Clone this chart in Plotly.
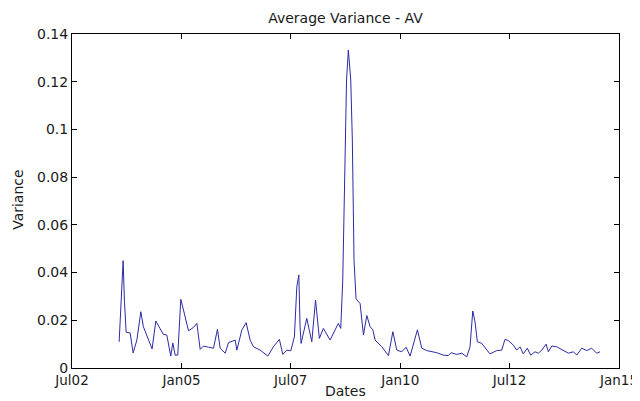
import pandas as pd
import plotly.graph_objects as go

# Time in decimal years
years = [2003.574, 2003.613, 2003.665, 2003.695, 2003.734, 2003.825, 2003.894, 2003.979,
         2004.070, 2004.129, 2004.244, 2004.328, 2004.413, 2004.511, 2004.580, 2004.664,
         2004.755, 2004.801, 2004.854, 2004.915, 2004.984, 2005.043, 2005.158, 2005.272,
         2005.350, 2005.425, 2005.500, 2005.615, 2005.729, 2005.820, 2005.882, 2005.996,
         2006.072, 2006.225, 2006.264, 2006.378, 2006.476, 2006.568, 2006.643, 2006.796,
         2006.972, 2007.100, 2007.237, 2007.315, 2007.406, 2007.498, 2007.580, 2007.635,
         2007.681, 2007.710, 2007.733, 2007.863, 2007.978, 2008.064, 2008.151, 2008.243,
         2008.396, 2008.585, 2008.640, 2008.686, 2008.723, 2008.773, 2008.814, 2008.869,
         2008.905, 2008.928, 2008.944, 2008.990, 2009.081, 2009.157, 2009.234, 2009.310,
         2009.372, 2009.424, 2009.577, 2009.728, 2009.829, 2009.920, 2010.034, 2010.133,
         2010.224, 2010.391, 2010.491, 2010.605, 2010.834, 2010.985, 2011.099, 2011.161,
         2011.291, 2011.405, 2011.520, 2011.595, 2011.657, 2011.709, 2011.762, 2011.862,
         2012.052, 2012.205, 2012.319, 2012.395, 2012.470, 2012.585, 2012.662, 2012.738,
         2012.813, 2012.904, 2012.982, 2013.080, 2013.156, 2013.234, 2013.332, 2013.384,
         2013.462, 2013.576, 2013.691, 2013.841, 2013.956, 2014.033, 2014.148, 2014.262,
         2014.376, 2014.490, 2014.566]

variance = [0.0110, 0.0280, 0.0450, 0.0280, 0.0150, 0.0147, 0.0063, 0.0117,
            0.0236, 0.0173, 0.0117, 0.0080, 0.0197, 0.0168, 0.0142, 0.0138,
            0.0050, 0.0105, 0.0054, 0.0054, 0.0288, 0.0243, 0.0156, 0.0170,
            0.0187, 0.0078, 0.0092, 0.0087, 0.0083, 0.0162, 0.0083, 0.0062,
            0.0106, 0.0117, 0.0075, 0.0159, 0.0190, 0.0117, 0.0089, 0.0075,
            0.0050, 0.0089, 0.0120, 0.0057, 0.0075, 0.0072, 0.0131, 0.0340,
            0.0390, 0.0173, 0.0103, 0.0208, 0.0110, 0.0285, 0.0124, 0.0166,
            0.0117, 0.0187, 0.0166, 0.0369, 0.0710, 0.1207, 0.1333, 0.1207,
            0.0956, 0.0710, 0.0450, 0.0290, 0.0270, 0.0138, 0.0220, 0.0173,
            0.0160, 0.0117, 0.0089, 0.0052, 0.0152, 0.0075, 0.0068, 0.0087,
            0.0050, 0.0160, 0.0083, 0.0073, 0.0064, 0.0054, 0.0052, 0.0064,
            0.0057, 0.0062, 0.0047, 0.0089, 0.0239, 0.0194, 0.0110, 0.0103,
            0.0059, 0.0073, 0.0075, 0.0120, 0.0115, 0.0096, 0.0075, 0.0089,
            0.0059, 0.0083, 0.0054, 0.0068, 0.0062, 0.0075, 0.0100, 0.0068,
            0.0092, 0.0089, 0.0078, 0.0062, 0.0068, 0.0054, 0.0083, 0.0073,
            0.0083, 0.0062, 0.0068]

x_tick_dates = ["2002-07-01", "2005-01-01", "2007-07-01", "2010-01-01", "2012-07-01", "2015-01-01"]
x_tick_labels = ["Jul02", "Jan05", "Jul07", "Jan10", "Jul12", "Jan15"]
y_ticks = [0, 0.02, 0.04, 0.06, 0.08, 0.1, 0.12, 0.14]
y_tick_labels = ["0", "0.02", "0.04", "0.06", "0.08", "0.1", "0.12", "0.14"]


def to_date(y):
    yr = int(y)
    return pd.Timestamp(year=yr, month=1, day=1) + pd.Timedelta(days=(y - yr) * 365.25)


dates = [to_date(y) for y in years]

FAMILY = "DejaVu Sans, Arial, sans-serif"
TXT = "#1a1a1a"

fig = go.Figure()
fig.add_trace(go.Scatter(x=dates, y=variance, mode="lines",
                         line=dict(color="#2b2ba3", width=1), showlegend=False))

# The page body has an 8px margin, so the figure is sized to fit the window.
fig.update_layout(
    width=632, height=393,
    margin=dict(l=64, r=21, t=26, b=33),
    paper_bgcolor="white", plot_bgcolor="white",
    font=dict(family=FAMILY, size=14, color=TXT),
    title=dict(text="Average Variance - AV", x=0.5, xref="paper", xanchor="center",
               y=1 - 10 / 393, yref="container", yanchor="middle",
               font=dict(family=FAMILY, size=14, color=TXT)),
    xaxis=dict(type="date", range=[x_tick_dates[0], x_tick_dates[-1]],
               tickvals=x_tick_dates, ticktext=x_tick_labels,
               tickfont=dict(family=FAMILY, size=13.5, color=TXT),
               ticks="inside", ticklen=5, tickcolor="black", tickwidth=1,
               showline=True, linecolor="black", linewidth=1, mirror="ticks",
               showgrid=False, zeroline=False, automargin=False),
    yaxis=dict(range=[0, 0.14], tickvals=y_ticks, ticktext=y_tick_labels,
               tickfont=dict(family=FAMILY, size=14, color=TXT),
               ticks="inside", ticklen=5, tickcolor="black", tickwidth=1,
               showline=True, linecolor="black", linewidth=1, mirror="ticks",
               showgrid=False, zeroline=False, automargin=False),
    annotations=[
        dict(text="Dates", xref="paper", x=0.5, yref="paper", y=-0.068,
             xanchor="center", yanchor="middle", showarrow=False,
             font=dict(family=FAMILY, size=14, color=TXT)),
        dict(text="Variance", xref="paper", x=-0.099, yref="paper", y=0.503,
             xanchor="center", yanchor="middle", showarrow=False, textangle=-90,
             font=dict(family=FAMILY, size=14, color=TXT)),
    ],
)

fig.write_html("out.html")
